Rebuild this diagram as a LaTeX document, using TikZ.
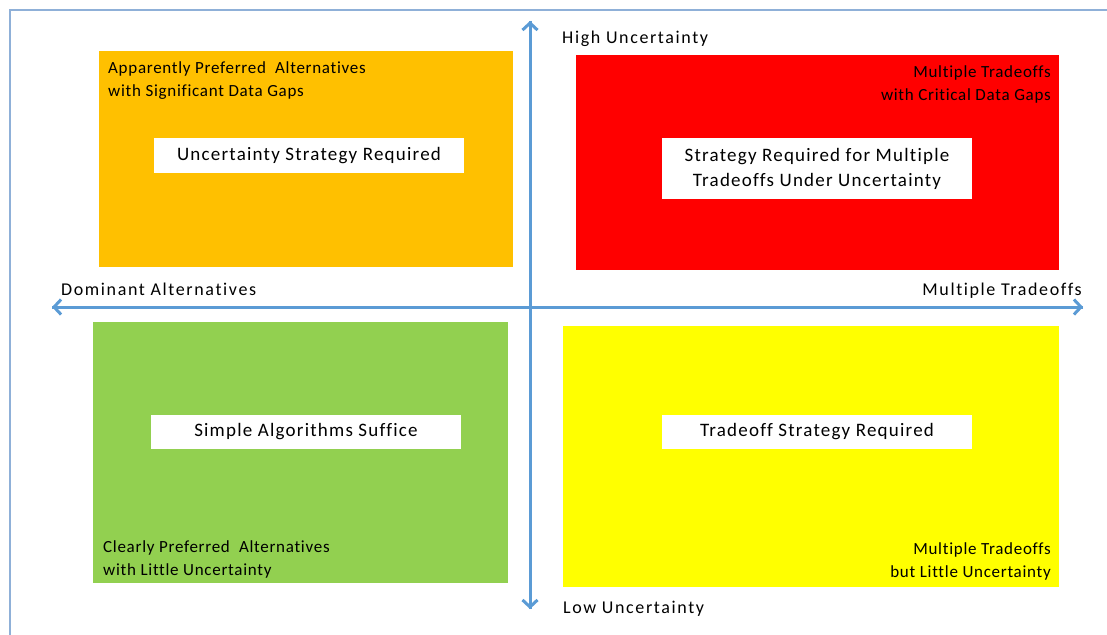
\documentclass[tikz,border=0pt]{standalone}
\usepackage{fontspec}
\setmainfont{Carlito}
\newfontfamily\tagfont[LetterSpace=6.4,Ligatures=NoCommon]{Carlito}
\newfontfamily\notefont[LetterSpace=4.2,Ligatures=NoCommon]{Carlito}
\newfontfamily\axisfont[LetterSpace=9,Ligatures=NoCommon]{Carlito}
\usetikzlibrary{arrows.meta}
\definecolor{axisblue}{HTML}{5B9BD5}
\definecolor{frameblue}{HTML}{8FB0D8}
\definecolor{qorange}{HTML}{FFC000}
\definecolor{qred}{HTML}{FF0000}
\definecolor{qgreen}{HTML}{92D050}
\definecolor{qyellow}{HTML}{FFFF00}
\begin{document}
\begin{tikzpicture}[x=1pt,y=-1pt,%
    quad/.style={rectangle,inner sep=0pt},
    tag/.style={rectangle,fill=white,inner sep=0pt,minimum width=310pt,align=center,font=\tagfont\fontsize{19}{25}\selectfont},
    note/.style={inner sep=0pt,font=\notefont\fontsize{17}{23}\selectfont},
    axislabel/.style={inner sep=0pt,font=\axisfont\fontsize{18}{20}\selectfont},
    axis/.style={draw=axisblue,line width=3pt,-{Straight Barb[length=7pt,width=15pt]}}
  ]
		\useasboundingbox (0,0) rectangle (1107,634);
		\draw[frameblue,line width=1.5pt] (10,640) -- (10,10) -- (1110,10);

		\node at (306,159) [quad,fill=qorange,minimum width=414pt,minimum height=216pt] (q1) {};
		\node at (817.5,162.5) [quad,fill=qred,minimum width=483pt,minimum height=215pt] (q2) {};
		\node at (300.5,452.5) [quad,fill=qgreen,minimum width=415pt,minimum height=261pt] (q3) {};
		\node at (811,456.5) [quad,fill=qyellow,minimum width=496pt,minimum height=261pt] (q4) {};

		\node at (309,155.5) [tag,minimum height=35pt] (t1) {Uncertainty Strategy Required};
		\node at (817,168.5) [tag,minimum height=61pt] (t2) {Strategy Required for Multiple\\Tradeoffs Under Uncertainty};
		\node at (306,432) [tag,minimum height=34pt] (t3) {Simple Algorithms Suffice};
		\node at (817,432) [tag,minimum height=34pt] (t4) {Tradeoff Strategy Required};

		\node at (108,61) [note,anchor=north west,align=left] (n1) {Apparently Preferred\ \ Alternatives\\with Significant Data Gaps};
		\node at (1051,65) [note,anchor=north east,align=right] (n2) {Multiple Tradeoffs\\with Critical Data Gaps};
		\node at (103,540) [note,anchor=north west,align=left] (n3) {Clearly Preferred\ \ Alternatives\\with Little Uncertainty};
		\node at (1051,542) [note,anchor=north east,align=right] (n4) {Multiple Tradeoffs\\but Little Uncertainty};

		\coordinate (top) at (530,21);
		\coordinate (bottom) at (530,609);
		\coordinate (left) at (52,307);
		\coordinate (right) at (1083,307);
		\draw[axis] (bottom) -- (top);
		\draw[axis] (top) -- (bottom);
		\draw[axis] (right) -- (left);
		\draw[axis] (left) -- (right);

		\node at (562,44) [axislabel,anchor=base west] (hi) {High Uncertainty};
		\node at (563,613) [axislabel,anchor=base west] (lo) {Low Uncertainty};
		\node at (61,295) [axislabel,anchor=base west] (dom) {Dominant Alternatives};
		\node at (1082,295) [axislabel,anchor=base east] (mul) {Multiple Tradeoffs};
	\end{tikzpicture}
\end{document}
